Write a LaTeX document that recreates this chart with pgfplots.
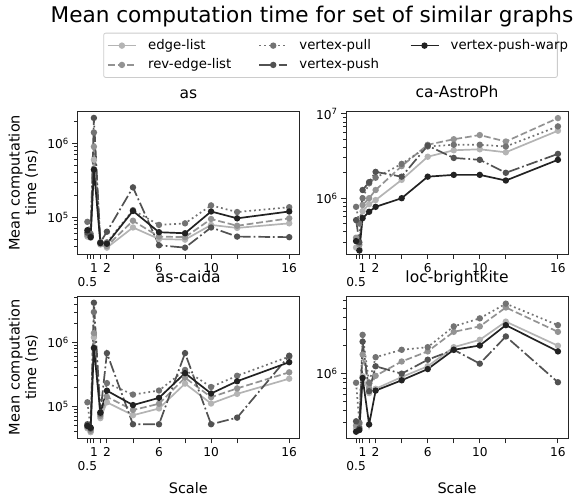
\documentclass[border=0pt]{standalone}
\usepackage{pgfplots}
\pgfplotsset{compat=1.18}
\usepackage{pgfplotstable}
\usepackage{fontspec}
\setmainfont{DejaVu Sans}

\definecolor{cEL}{HTML}{B4B4B4}
\definecolor{cREL}{HTML}{939393}
\definecolor{cPULL}{HTML}{737373}
\definecolor{cPUSH}{HTML}{525252}
\definecolor{cWARP}{HTML}{222222}

\pgfplotstableread{
x el rel pull push warp
0.5 5.5e4 5.8e4 8.7e4 6.2e4 6.7e4
0.75 5.3e4 5.5e4 6.0e4 5.6e4 5.4e4
1 6.0e5 9.0e5 1.4e6 2.2e6 4.4e5
1.5 4.3e4 4.4e4 4.6e4 4.6e4 4.5e4
2 3.9e4 4.1e4 4.6e4 6.4e4 4.4e4
4 7.3e4 9.0e4 1.25e5 2.54e5 1.22e5
6 5.1e4 5.5e4 7.9e4 4.2e4 6.3e4
8 5.0e4 5.4e4 8.3e4 3.9e4 6.1e4
10 7.9e4 9.5e4 1.45e5 7.3e4 1.2e5
12 7.2e4 7.7e4 1.18e5 5.5e4 9.7e4
16 8.3e4 9.7e4 1.37e5 5.4e4 1.2e5
}\dataAs

\pgfplotstableread{
x el rel pull push warp
0.5 2.6e5 3.4e5 7.9e5 5.5e5 3.1e5
0.75 2.5e5 2.8e5 5.0e5 3.0e5 2.4e5
1 7.0e5 8.3e5 1.0e6 1.25e6 5.8e5
1.5 8.5e5 1.0e6 1.5e6 1.55e6 6.9e5
2 9.5e5 1.25e6 1.75e6 2.05e6 7.9e5
4 1.65e6 2.4e6 2.55e6 1.8e6 1.0e6
6 3.1e6 4.3e6 4.1e6 4.2e6 1.8e6
8 3.7e6 5.0e6 4.3e6 3.0e6 1.89e6
10 3.8e6 5.6e6 4.3e6 2.85e6 1.89e6
12 3.5e6 4.7e6 4.1e6 2.0e6 1.62e6
16 6.3e6 8.9e6 7.1e6 3.35e6 2.85e6
}\dataAstro

\pgfplotstableread{
x el rel pull push warp
0.5 4.5e4 4.7e4 1.15e5 5.2e4 4.9e4
0.75 3.9e4 4.1e4 4.4e4 4.5e4 4.6e4
1 1.2e6 1.4e6 3.0e6 4.2e6 8.2e5
1.5 6.5e4 7.0e4 7.5e4 8.0e4 7.9e4
2 1.15e5 1.4e5 2.3e5 6.8e5 1.75e5
4 7.2e4 8.7e4 1.52e5 5.2e4 1.04e5
6 9.2e4 1.09e5 1.76e5 5.2e4 1.35e5
8 2.26e5 2.8e5 3.7e5 6.8e5 3.3e5
10 1.1e5 1.38e5 2.0e5 5.2e4 1.58e5
12 1.56e5 1.9e5 3.0e5 6.6e4 2.46e5
16 2.7e5 3.4e5 6.0e5 6.2e5 4.9e5
}\dataCaida

\pgfplotstableread{
x el rel pull push warp
0.5 2.6e5 2.8e5 8.0e5 3.1e5 2.4e5
0.75 2.7e5 2.9e5 3.0e5 2.6e5 2.5e5
1 9.4e5 1.6e6 2.6e6 2.2e6 9.0e5
1.5 6.2e5 7.0e5 8.0e5 6.5e5 2.87e5
2 6.9e5 9.5e5 1.5e6 1.2e6 6.6e5
4 9.2e5 1.35e6 1.8e6 1.0e6 8.5e5
6 1.2e6 1.73e6 1.92e6 1.41e6 1.12e6
8 1.92e6 2.8e6 3.2e6 1.8e6 1.8e6
10 2.3e6 3.2e6 3.9e6 1.28e6 2.0e6
12 3.6e6 5.1e6 5.6e6 2.5e6 3.3e6
16 1.99e6 2.8e6 3.3e6 8.1e5 1.73e6
}\dataBright

\tikzset{
  sAll/.style={line width=1.7pt, mark=*, mark size=2.3pt, mark options={solid}},
  sEL/.style={sAll, color=cEL, solid},
  sREL/.style={sAll, color=cREL, dash pattern=on 6.8pt off 2.9pt},
  sPULL/.style={sAll, color=cPULL, dash pattern=on 1.8pt off 3pt},
  sPUSH/.style={sAll, color=cPUSH, dash pattern=on 11.7pt off 2.9pt on 1.8pt off 2.9pt},
  sWARP/.style={sAll, color=cWARP, solid},
}
\pgfplotsset{
  chartbase/.style={
    scale only axis, width=222pt, height=142.3pt,
    xmin=-0.275, xmax=16.775,
    xtick={0.75,1,1.5,2,4,6,8,10,12,16},
    xticklabels={,1,,2,,6,,10,,16},
    extra x ticks={0.5}, extra x tick labels={0.5},
    extra x tick style={xticklabel style={yshift=-14pt}},
    tick align=outside, xtick pos=bottom, ytick pos=left,
    major tick length=5pt, minor tick length=2.8pt,
    every tick/.style={black!85, line width=0.9pt},
    axis line style={black!85, line width=0.9pt},
    tick label style={font=\fontsize{12.2}{14}\selectfont},
    xticklabel style={yshift=-1pt},
    title style={font=\fontsize{15.5}{18}\selectfont, at={(axis description cs:0.5,1)}, anchor=base, yshift=7.7pt},
    label style={font=\fontsize{14.5}{16.5}\selectfont},
    ylabel style={align=center, at={(axis description cs:-0.243,0.5)}, anchor=center},
    xlabel style={at={(axis description cs:0.5,-0.348)}, anchor=center},
  },
}

\newcommand{\allplots}[1]{%
  \addplot[sEL, forget plot] table[x=x,y=el]{#1};
  \addplot[sREL, forget plot] table[x=x,y=rel]{#1};
  \addplot[sPULL, forget plot] table[x=x,y=pull]{#1};
  \addplot[sPUSH, forget plot] table[x=x,y=push]{#1};
  \addplot[sWARP, forget plot] table[x=x,y=warp]{#1};
}

\begin{document}
\begin{tikzpicture}
\useasboundingbox (0,0) rectangle (577pt,-496pt);

\begin{semilogyaxis}[chartbase, at={(77.3pt,-111.7pt)}, anchor=north west,
  title={as}, ylabel={Mean computation\\time (ns)},
  ymin=3.2e4, ymax=2.67e6,
  ytick={1e5,1e6}, yticklabels={10\textsuperscript{5},10\textsuperscript{6}},
  minor ytick={4e4,5e4,6e4,7e4,8e4,9e4,2e5,3e5,4e5,5e5,6e5,7e5,8e5,9e5,2e6},
  legend columns=3,
  legend cell align=left,
  legend style={
    at={(axis description cs:0.117,1.555)}, anchor=north west,
    draw=black!20, rounded corners=2pt, line width=0.8pt,
    font=\fontsize{13.3}{15}\selectfont,
    inner xsep=3.4pt, inner ysep=5pt,
    row sep=4.3pt,
    nodes={inner ysep=1pt, text height=10pt, text depth=3pt, inner xsep=3.3pt},
    /tikz/every odd column/.append style={column sep=8pt},
    /tikz/every even column/.append style={column sep=0pt},
  },
  legend image code/.code={\draw[mark repeat=2,mark phase=2,#1] plot coordinates {(0pt,0pt) (14pt,0pt) (28pt,0pt)};},
]
\addlegendimage{sEL}
\addlegendentry{\makebox[107pt][l]{edge-list}}
\addlegendimage{sPULL}
\addlegendentry{\makebox[107pt][l]{vertex-pull}}
\addlegendimage{sWARP}
\addlegendentry{\makebox[100pt][l]{vertex-push-warp}}
\addlegendimage{sREL}
\addlegendentry{\makebox[107pt][l]{rev-edge-list}}
\addlegendimage{sPUSH}
\addlegendentry{\makebox[107pt][l]{vertex-push}}
\allplots{\dataAs}
\end{semilogyaxis}

\begin{semilogyaxis}[chartbase, at={(346pt,-111.7pt)}, anchor=north west,
  title={ca-AstroPh},
  ymin=2.18e5, ymax=1.06e7,
  ytick={1e6,1e7}, yticklabels={10\textsuperscript{6},10\textsuperscript{7}},
  minor ytick={3e5,4e5,5e5,6e5,7e5,8e5,9e5,2e6,3e6,4e6,5e6,6e6,7e6,8e6,9e6},
]
\allplots{\dataAstro}
\end{semilogyaxis}

\begin{semilogyaxis}[chartbase, at={(77.3pt,-296pt)}, anchor=north west,
  title={as-caida}, ylabel={Mean computation\\time (ns)}, xlabel={Scale},
  ymin=3.13e4, ymax=5.36e6,
  ytick={1e5,1e6}, yticklabels={10\textsuperscript{5},10\textsuperscript{6}},
  minor ytick={4e4,5e4,6e4,7e4,8e4,9e4,2e5,3e5,4e5,5e5,6e5,7e5,8e5,9e5,2e6,3e6,4e6,5e6},
]
\allplots{\dataCaida}
\end{semilogyaxis}

\begin{semilogyaxis}[chartbase, at={(346pt,-296pt)}, anchor=north west,
  title={loc-brightkite}, xlabel={Scale},
  ymin=2.04e5, ymax=6.76e6,
  ytick={1e6}, yticklabels={10\textsuperscript{6}},
  minor ytick={3e5,4e5,5e5,6e5,7e5,8e5,9e5,2e6,3e6,4e6,5e6,6e6},
]
\allplots{\dataBright}
\end{semilogyaxis}

\node[font=\fontsize{21.6}{24}\selectfont, anchor=base] at (312pt,-22pt) {Mean computation time for set of similar graphs};
\end{tikzpicture}
\end{document}
